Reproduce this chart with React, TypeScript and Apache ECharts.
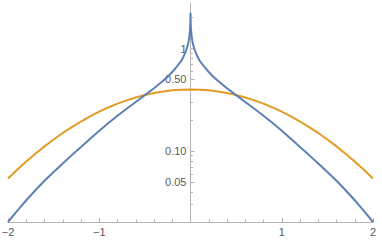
import React, { useEffect, useRef } from 'react';
import * as echarts from 'echarts';

const blueXRight = [0, 0.0005, 0.001, 0.002, 0.005, 0.013, 0.02, 0.03, 0.04, 0.05, 0.07, 0.1, 0.15, 0.2, 0.25, 0.3, 0.4, 0.5,
  0.6, 0.7, 0.8, 0.9, 1.0, 1.1, 1.2, 1.3, 1.4, 1.5, 1.6, 1.7, 1.8, 1.9, 2.0];
const blueYRight = [2.23, 2.15, 1.97, 1.79, 1.55, 1.30, 1.19, 1.08, 1.01, 0.95, 0.86, 0.76, 0.665, 0.59, 0.53, 0.484, 0.410, 0.351,
  0.301, 0.258, 0.221, 0.1875, 0.1578, 0.1318, 0.1096, 0.0912, 0.0757, 0.0625, 0.0512, 0.0414, 0.0331, 0.0261, 0.0203];

const orangeXRight = [0, 0.1, 0.2, 0.3, 0.4, 0.5, 0.6, 0.7, 0.8, 0.9, 1.0, 1.1, 1.2, 1.3, 1.4, 1.5, 1.6, 1.7, 1.8, 1.9, 2.0];
const orangeYRight = [0.399, 0.397, 0.391, 0.381, 0.368, 0.352, 0.333, 0.312, 0.290, 0.266, 0.242, 0.218, 0.194, 0.171, 0.150,
  0.1295, 0.111, 0.094, 0.079, 0.0656, 0.054];

const xTickLabels = ['\u22122', '\u22121', '', '1', '2'];
const yLabelValues = [0.05, 0.1, 0.5, 1];
const yLabelTexts = ['0.05', '0.10', '0.50', '1'];
const yMinorValues = [0.03, 0.04, 0.06, 0.07, 0.08, 0.09, 0.2, 0.3, 0.4, 0.6, 0.7, 0.8, 0.9, 2];

// curves are symmetric about x = 0: mirror the right halves
function mirror(xs: number[], ys: number[]): number[][] {
  const pts: number[][] = [];
  for (let i = xs.length - 1; i > 0; i--) pts.push([-xs[i], ys[i]]);
  for (let i = 0; i < xs.length; i++) pts.push([xs[i], ys[i]]);
  return pts;
}

const W = 382;
const H = 241;
const GRID_LEFT = 8;
const GRID_RIGHT = 9;
const X_MIN = -2;
const X_MAX = 2;
// y axis drawn at x = 0 of the horizontal axis
const Y_AXIS_SHIFT = -((0 - X_MIN) / (X_MAX - X_MIN)) * (W - GRID_LEFT - GRID_RIGHT);

export default function App() {
  const ref = useRef<HTMLDivElement>(null);
  useEffect(() => {
    const chart = echarts.init(ref.current!, null, { renderer: 'svg' });
    const gray = '#b3b3b3';
    const labelColor = '#5a5a5a';
    const yMin = 0.0203;
    const yMax = 2.78;
    chart.setOption({
      animation: false,
      grid: { left: GRID_LEFT, right: GRID_RIGHT, top: 3, bottom: 19, outerBoundsMode: 'none', containLabel: false },
      xAxis: {
        type: 'value',
        min: X_MIN,
        max: X_MAX,
        interval: 1,
        axisLine: { onZero: false, lineStyle: { color: gray, width: 1 } },
        axisTick: { inside: true, length: 4, lineStyle: { color: gray } },
        minorTick: { show: true, splitNumber: 5, length: 2.5, lineStyle: { color: gray } },
        splitLine: { show: false },
        minorSplitLine: { show: false },
        axisLabel: {
          margin: 4,
          color: labelColor,
          fontSize: 11,
          fontFamily: 'Liberation Sans',
          formatter: (v: number) => xTickLabels[Math.round(v) + 2] ?? '',
        },
      },
      yAxis: [
        {
          type: 'log',
          position: 'left',
          offset: Y_AXIS_SHIFT,
          min: yMin,
          max: yMax,
          axisLine: { onZero: false, lineStyle: { color: gray, width: 1 } },
          axisTick: { inside: true, length: 4, customValues: yLabelValues, lineStyle: { color: gray } },
          axisLabel: {
            customValues: yLabelValues,
            margin: 4,
            color: labelColor,
            fontSize: 11,
            fontFamily: 'Liberation Sans',
            formatter: (v: number) => {
              let best = 0;
              for (let i = 0; i < yLabelValues.length; i++) {
                if (Math.abs(yLabelValues[i] - v) < Math.abs(yLabelValues[best] - v)) best = i;
              }
              return yLabelTexts[best];
            },
          },
          splitLine: { show: false },
        },
        {
          type: 'log',
          position: 'left',
          offset: Y_AXIS_SHIFT,
          min: yMin,
          max: yMax,
          axisLine: { onZero: false, show: false },
          axisTick: { inside: true, length: 2.5, customValues: yMinorValues, lineStyle: { color: gray } },
          axisLabel: { show: false },
          splitLine: { show: false },
        },
      ],
      series: [
        {
          type: 'line',
          yAxisIndex: 0,
          data: mirror(orangeXRight, orangeYRight),
          showSymbol: false,
          lineStyle: { color: '#E19C24', width: 2 },
          itemStyle: { color: '#E19C24' },
          z: 2,
        },
        {
          type: 'line',
          yAxisIndex: 0,
          data: mirror(blueXRight, blueYRight),
          showSymbol: false,
          lineStyle: { color: '#5E81B5', width: 2 },
          itemStyle: { color: '#5E81B5' },
          z: 3,
        },
      ],
    });
    return () => chart.dispose();
  }, []);
  return <div ref={ref} style={{ position: 'absolute', left: 0, top: 0, width: W, height: H }} />;
}
